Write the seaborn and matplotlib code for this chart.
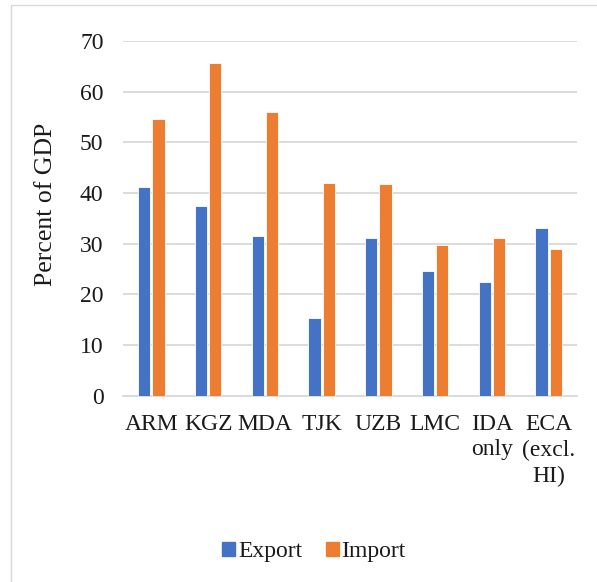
import matplotlib
matplotlib.use("Agg")
import matplotlib.pyplot as plt
import seaborn as sns
import pandas as pd
from matplotlib.lines import Line2D

# Trade as share of GDP by country / group
categories = ["ARM", "KGZ", "MDA", "TJK", "UZB", "LMC", "IDA\nonly", "ECA\n(excl.\nHI)"]
export_vals = [41.2, 37.4, 31.5, 15.3, 31.1, 24.6, 22.4, 33.1]
import_vals = [54.5, 65.7, 56.0, 42.0, 41.8, 29.8, 31.1, 29.0]
series_names = ["Export", "Import"]
y_ticks = [0, 10, 20, 30, 40, 50, 60, 70]

df = pd.DataFrame({
    "category": categories * 2,
    "series": [series_names[0]] * len(categories) + [series_names[1]] * len(categories),
    "value": export_vals + import_vals,
})

sns.set_theme(style="white")
plt.rcParams["font.family"] = ["Liberation Serif", "DejaVu Serif"]

FS = 17
TXT = "#1a1a1a"

fig = plt.figure(figsize=(5.97, 5.82), dpi=100)
ax = fig.add_axes([123 / 597, 1 - 395.5 / 582, 454 / 597, 354.5 / 582])

palette = {"Export": "#4472C4", "Import": "#ED7D31"}
sns.barplot(data=df, x="category", y="value", hue="series", order=categories,
            hue_order=series_names, palette=palette, width=0.5, gap=0.13,
            edgecolor="white", linewidth=0.6, saturation=1, ax=ax, zorder=3)

ax.set_ylim(0, 70)
ax.set_yticks(y_ticks)
ax.set_yticklabels([str(t) for t in y_ticks], fontsize=FS, color=TXT)
ax.yaxis.grid(True, color="#D9D9D9", linewidth=1.3, zorder=0)
ax.set_axisbelow(True)
for s in ["top", "right", "left"]:
    ax.spines[s].set_visible(False)
ax.spines["bottom"].set_color("#D9D9D9")
ax.spines["bottom"].set_linewidth(1.3)
ax.tick_params(axis="y", length=0, pad=14)
ax.tick_params(axis="x", length=0, pad=13)
for lbl in ax.get_xticklabels():
    lbl.set_fontsize(FS)
    lbl.set_color(TXT)
    lbl.set_multialignment("center")
    lbl.set_linespacing(1.3)
ax.set_xlabel("")
ax.set_ylabel("Percent of GDP", fontsize=18.5, color=TXT)
ax.yaxis.set_label_coords(-(123 - 57) / 454, (395.5 - 204) / 354.5)

ax.legend_.remove()
handles = [plt.Rectangle((0, 0), 1, 1, color=palette[n]) for n in series_names]
fig.legend(handles, series_names, loc="center", bbox_to_anchor=(314 / 597, 1 - 552 / 582),
           ncol=2, frameon=False, fontsize=FS, handlelength=0.55, handleheight=0.55,
           handletextpad=0.12, columnspacing=1.0, labelcolor=TXT)

# chart frame edges
fig.add_artist(Line2D([10.5 / 597, 10.5 / 597], [0, 1 - 4.5 / 582],
                      transform=fig.transFigure, color="#D9D9D9", linewidth=1))
fig.add_artist(Line2D([10.5 / 597, 1], [1 - 4.5 / 582, 1 - 4.5 / 582],
                      transform=fig.transFigure, color="#D9D9D9", linewidth=1))

fig.savefig("out.png", dpi=100)
